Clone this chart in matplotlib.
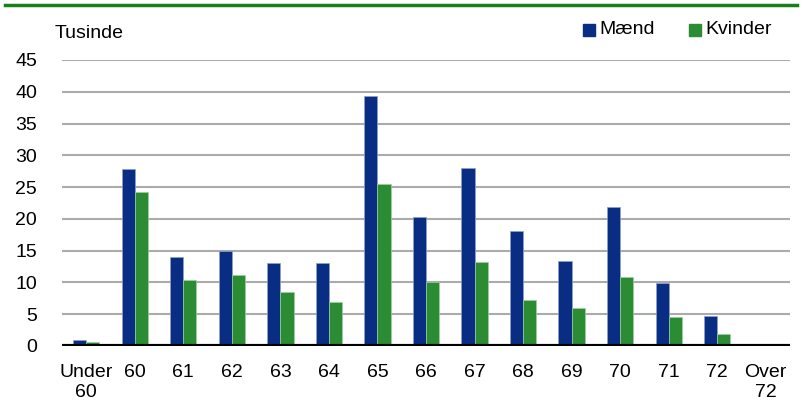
import matplotlib
matplotlib.use("Agg")
import matplotlib.pyplot as plt
from matplotlib.lines import Line2D
from matplotlib.patches import Rectangle
import numpy as np

categories = ["Under\n60", "60", "61", "62", "63", "64", "65", "66", "67", "68", "69", "70", "71", "72", "Over\n72"]
maend = [1.0, 27.8, 14.0, 15.0, 13.0, 13.1, 39.4, 20.3, 28.0, 18.1, 13.3, 21.9, 9.9, 4.7, 0.0]
kvinder = [0.6, 24.3, 10.4, 11.1, 8.5, 6.9, 25.5, 10.0, 13.2, 7.2, 6.0, 10.8, 4.5, 1.9, 0.0]
yticks = [0, 5, 10, 15, 20, 25, 30, 35, 40, 45]

blue = "#0a2d84"
green = "#2b8c34"

plt.rcParams['font.family'] = ['Liberation Sans', 'DejaVu Sans']

W, H = 804, 418
fig = plt.figure(figsize=(W/100, H/100), dpi=100)
ax = fig.add_axes([62/W, 1-346/H, (790-62)/W, (346-60)/H])

x = np.arange(len(categories))
bw = 0.27
ax.bar(x - bw/2, maend, bw, color=blue, edgecolor="#8fa0c8", linewidth=0.5, zorder=3)
ax.bar(x + bw/2, kvinder, bw, color=green, edgecolor="#a0d0a0", linewidth=0.5, zorder=3)

ax.set_xlim(-0.5, len(categories) - 0.5)
ax.set_ylim(0, 45)
ax.set_yticks(yticks)
ax.set_yticklabels([str(v) for v in yticks], fontsize=14)
ax.set_xticks(x)
ax.set_xticklabels(categories, fontsize=14, linespacing=1.2)
ax.tick_params(axis='both', length=0)
ax.tick_params(axis='x', pad=13)
ax.tick_params(axis='y', pad=18)
for s in ax.spines.values():
    s.set_visible(False)
ax.grid(axis='y', color="#ababab", linewidth=1.5, zorder=0)
ax.axhline(0, color="black", linewidth=3, zorder=4)
ax.set_axisbelow(True)

# Top green line
fig.add_artist(Line2D([5/W, 797/W], [1-5/H, 1-5/H], color="#1a7f1a", linewidth=2.5))

fig.text(55/W, 1-33/H, "Tusinde", fontsize=14, va='center', ha='left')

# Legend
for (lx, label, c) in [(583, "Mænd", blue), (689, "Kvinder", green)]:
    fig.add_artist(Rectangle((lx/W, 1-36/H), 12/W, 12/H, color=c, transform=fig.transFigure))
    fig.text((lx+16)/W, 1-29/H, label, fontsize=14, va='center', ha='left')

fig.savefig("out.png", dpi=100)
